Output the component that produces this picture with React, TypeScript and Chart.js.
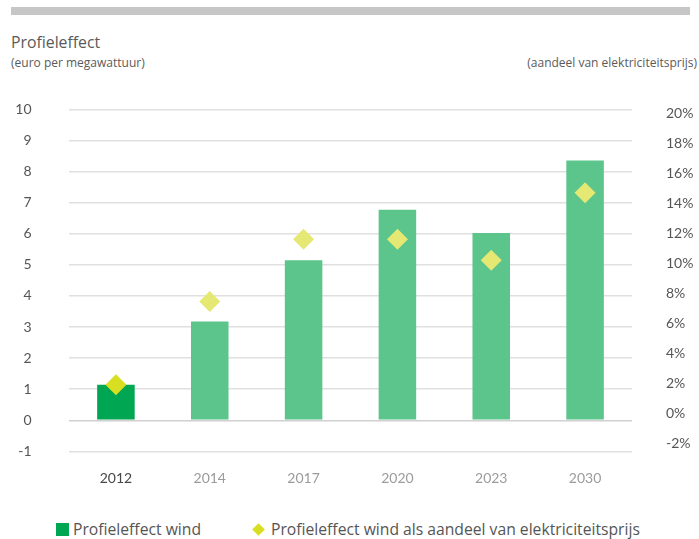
import React, { useEffect, useRef } from "react";
import { Chart, registerables } from "chart.js";

Chart.register(...registerables);

const categories = ["2012", "2014", "2017", "2020", "2023", "2030"];
const profielEffect = [1.14, 3.18, 5.15, 6.77, 6.02, 8.35];
const aandeelPct = [1.9, 7.45, 11.6, 11.6, 10.2, 14.7];
const leftTicks = [-1, 0, 1, 2, 3, 4, 5, 6, 7, 8, 9, 10];
const rightTicks = [-2, 0, 2, 4, 6, 8, 10, 12, 14, 16, 18, 20];

const barColors = ["#00a651", "#5bc58c", "#5bc58c", "#5bc58c", "#5bc58c", "#5bc58c"];
const diamondColors = ["#d8df22", "#e5e873", "#e5e873", "#e5e873", "#e5e873", "#e5e873"];
const catLabelColors = ["#474747", "#9b9b9b", "#9b9b9b", "#9b9b9b", "#9b9b9b", "#9b9b9b"];

const tickFont = { family: "Lato", size: 14 };

export default function App() {
  const ref = useRef<HTMLCanvasElement | null>(null);

  useEffect(() => {
    if (!ref.current) return;
    const chart = new Chart(ref.current, {
      type: "bar",
      data: {
        labels: categories,
        datasets: [
          {
            type: "line",
            label: "Profieleffect wind als aandeel van elektriciteitsprijs",
            data: aandeelPct,
            yAxisID: "y2",
            showLine: false,
            pointStyle: "rectRot",
            pointRadius: 10.5,
            pointHoverRadius: 10.5,
            pointBorderWidth: 0,
            pointBackgroundColor: diamondColors,
            pointBorderColor: diamondColors,
            order: 0,
          } as any,
          {
            type: "bar",
            label: "Profieleffect wind",
            data: profielEffect,
            yAxisID: "y",
            backgroundColor: barColors,
            borderWidth: 0,
            barPercentage: 0.4,
            categoryPercentage: 1.0,
            order: 1,
          },
        ],
      },
      options: {
        responsive: false,
        animation: false,
        layout: { padding: { top: 109.3, left: 0, right: 0, bottom: 0 } },
        plugins: {
          legend: { display: false },
          tooltip: { enabled: false },
          title: { display: false },
        },
        scales: {
          x: {
            grid: { display: false },
            border: { display: false },
            ticks: {
              font: tickFont,
              color: catLabelColors,
              padding: 11,
            },
            afterFit: (s: any) => {
              s.height = 48.6;
            },
          },
          y: {
            position: "left",
            min: -1,
            max: 10,
            afterBuildTicks: (s: any) => {
              s.ticks = leftTicks.map((v) => ({ value: v }));
            },
            grid: {
              drawTicks: false,
              lineWidth: 1.5,
              color: (ctx: any) => (ctx.tick && ctx.tick.value === 0 ? "#d0d0d0" : "#e0e0e0"),
            },
            border: { display: false },
            ticks: {
              font: tickFont,
              color: "#555555",
              padding: 37.5,
            },
            afterFit: (s: any) => {
              s.width = 69;
            },
          },
          y2: {
            position: "right",
            min: -2.54,
            max: 20.27,
            afterBuildTicks: (s: any) => {
              s.ticks = rightTicks.map((v) => ({ value: v }));
            },
            grid: { display: false },
            border: { display: false },
            ticks: {
              font: tickFont,
              color: "#555555",
              padding: 26,
              callback: (v: any) => v + "%",
            },
            afterFit: (s: any) => {
              s.width = 67;
            },
          },
        },
      },
    });
    return () => chart.destroy();
  }, []);

  const textColor = "#5a5a5a";

  return (
    <div
      style={{
        position: "absolute",
        left: 0,
        top: 0,
        width: 699,
        height: 539,
        background: "#ffffff",
        fontFamily: "'Open Sans', sans-serif",
        color: textColor,
      }}
    >
      <div style={{ position: "absolute", left: 11, top: 7, width: 679, height: 8, background: "#c6c6c6" }} />
      <div style={{ position: "absolute", left: 11, top: 31, fontSize: 15.8, lineHeight: "22px", whiteSpace: "nowrap" }}>
        Profieleffect
      </div>
      <div style={{ position: "absolute", left: 11, top: 54, fontSize: 12, lineHeight: "17px", whiteSpace: "nowrap" }}>
        (euro per megawattuur)
      </div>
      <div style={{ position: "absolute", right: 2, top: 54, fontSize: 12, lineHeight: "17px", whiteSpace: "nowrap" }}>
        (aandeel van elektriciteitsprijs)
      </div>
      <div style={{ position: "absolute", left: 0, top: 0, width: 699, height: 500 }}>
        <canvas ref={ref} width={699} height={500} style={{ display: "block" }} />
      </div>
      <div style={{ position: "absolute", left: 56, top: 523, width: 13, height: 13, background: "#00a651" }} />
      <div style={{ position: "absolute", left: 73, top: 518, fontSize: 15.7, lineHeight: "22px", whiteSpace: "nowrap", color: "#555" }}>
        Profieleffect wind
      </div>
      <div
        style={{
          position: "absolute",
          left: 254,
          top: 525,
          width: 9,
          height: 9,
          background: "#d8df22",
          transform: "rotate(45deg)",
        }}
      />
      <div style={{ position: "absolute", left: 271, top: 518, fontSize: 15.7, lineHeight: "22px", whiteSpace: "nowrap", color: "#555" }}>
        Profieleffect wind als aandeel van elektriciteitsprijs
      </div>
    </div>
  );
}
